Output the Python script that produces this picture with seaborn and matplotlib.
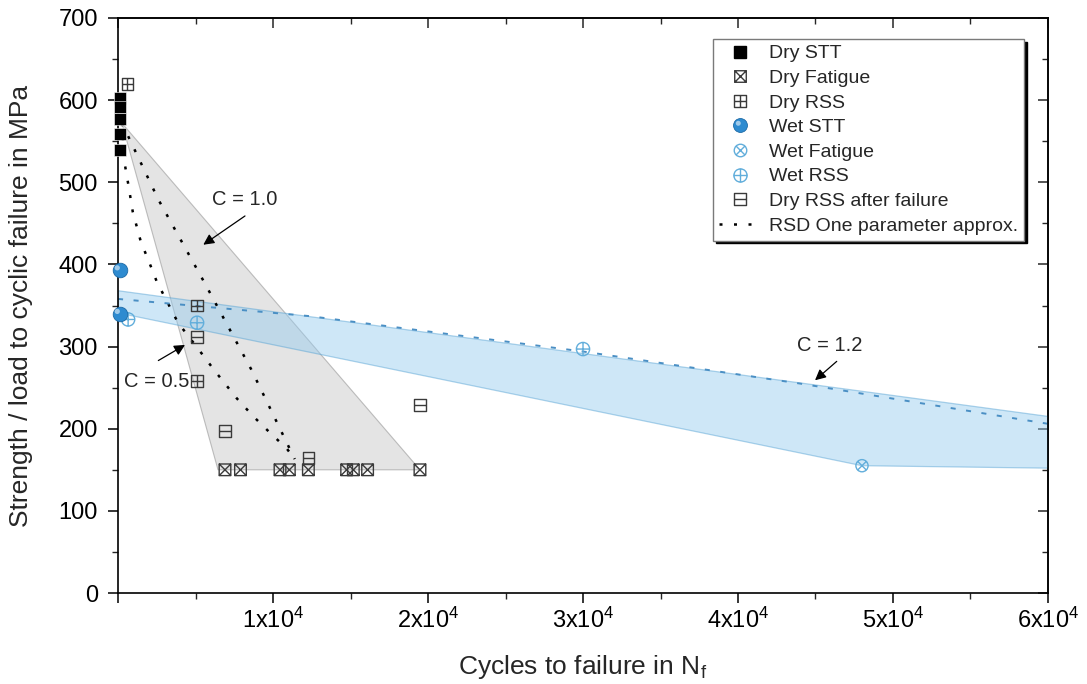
import numpy as np
import pandas as pd
import matplotlib
matplotlib.use("Agg")
import matplotlib.pyplot as plt
from matplotlib.path import Path
from matplotlib.lines import Line2D
from matplotlib.ticker import MultipleLocator, FuncFormatter
import seaborn as sns

sns.set_theme(style="ticks")
plt.rcParams["font.family"] = ["Liberation Sans", "DejaVu Sans"]
plt.rcParams["mathtext.default"] = "regular"

# ---- measured data -------------------------------------------------------
dry_stt_n = [120, 120, 120, 120, 120]
dry_stt_s = [603, 592, 577, 559, 539]

dry_fat_n = [6900, 7900, 10450, 11050, 12280, 14750, 15180, 16100, 19480]
dry_fat_s = [150, 150, 150, 150, 150, 150, 150, 150, 150]

dry_rss_n = [600, 5100, 5100]
dry_rss_s = [620, 350, 258]

wet_stt_n = [100, 100]
wet_stt_s = [393, 340]

wet_fat_n = [48000]
wet_fat_s = [155]

wet_rss_n = [650, 5100, 30000]
wet_rss_s = [333, 329, 297]

dry_after_n = [5100, 6900, 12280, 19480]
dry_after_s = [312, 197, 164, 229]

# residual strength degradation approximations
c05_n = [250, 390, 665, 950, 1465, 2065, 2500, 3870, 5180, 6260, 7660, 8730, 9810, 10880, 11400]
c05_s = [572, 527, 497, 464, 428, 400, 379, 329, 297, 270, 237, 215, 195, 176, 163]
c10_n = [250, 2600, 5600, 8600, 11400]
c10_s = [572, 479, 377, 272, 163]
c12_n = [0, 12400, 30000, 44000, 60000]
c12_s = [358, 337, 294, 255, 206]

# scatter bands
dry_band_n = [250, 6450, 19480]
dry_band_s = [572, 150, 150]
wet_band_n = [0, 60000, 60000, 48000, 0]
wet_band_s = [368, 215, 152, 155, 341]

# ---- marker shapes -------------------------------------------------------
def _seg(p0, p1):
    return Path([p0, p1], [Path.MOVETO, Path.LINETO])

_square = Path([(-1, -1), (1, -1), (1, 1), (-1, 1), (-1, -1)],
               [Path.MOVETO, Path.LINETO, Path.LINETO, Path.LINETO, Path.CLOSEPOLY])
_circle = Path.unit_circle()
_d = 0.7071

sq_x = Path.make_compound_path(_square, _seg((-1, -1), (1, 1)), _seg((-1, 1), (1, -1)))
sq_plus = Path.make_compound_path(_square, _seg((0, -1), (0, 1)), _seg((-1, 0), (1, 0)))
sq_minus = Path.make_compound_path(_square, _seg((-1, 0), (1, 0)))
ci_x = Path.make_compound_path(_circle, _seg((-_d, -_d), (_d, _d)), _seg((-_d, _d), (_d, -_d)))
ci_plus = Path.make_compound_path(_circle, _seg((0, -1), (0, 1)), _seg((-1, 0), (1, 0)))
# small glossy spot in the upper left of the sphere markers
_spot = Path.circle(center=(-0.32, 0.32), radius=0.36)
_frame_pts = Path([(1, 1), (-1, -1)], [Path.MOVETO, Path.MOVETO])
spot = Path.make_compound_path(_spot, _frame_pts)

dark = "#3a3a3a"
wet_line = "#62aedb"
sphere = "#2e8bd0"

# ---- figure --------------------------------------------------------------
fig, ax = plt.subplots(figsize=(10.87, 6.84), dpi=100)
fig.subplots_adjust(left=0.1086, right=0.9641, top=0.9737, bottom=0.1330)

ax.fill(dry_band_n, dry_band_s, facecolor="#d4d4d4", alpha=0.62,
        edgecolor="#9a9a9a", linewidth=0.8, zorder=1)
ax.fill(wet_band_n, wet_band_s, facecolor="#94cbef", alpha=0.45,
        edgecolor="#4f9fd2", linewidth=0.9, zorder=1.5)

dot = (0, (1.2, 4.6))
sns.lineplot(x=c05_n, y=c05_s, ax=ax, sort=False, estimator=None, color="black",
             linewidth=1.8, linestyle=dot, zorder=2)
sns.lineplot(x=c10_n, y=c10_s, ax=ax, sort=False, estimator=None, color="black",
             linewidth=1.8, linestyle=dot, zorder=2)
sns.lineplot(x=c12_n, y=c12_s, ax=ax, sort=False, estimator=None, color="#4a8fc4",
             linewidth=1.4, linestyle=(0, (2.6, 5.4)), zorder=2)

ms = 70
sns.scatterplot(x=dry_stt_n, y=dry_stt_s, ax=ax, marker="s", s=85,
                color="black", edgecolor="white", linewidth=0.4, zorder=4, clip_on=False)
sns.scatterplot(x=dry_fat_n, y=dry_fat_s, ax=ax, marker=sq_x, s=ms,
                facecolor="none", edgecolor=dark, linewidth=1.0, zorder=4)
sns.scatterplot(x=dry_rss_n, y=dry_rss_s, ax=ax, marker=sq_plus, s=ms,
                facecolor="none", edgecolor=dark, linewidth=1.0, zorder=4, clip_on=False)
sns.scatterplot(x=dry_after_n, y=dry_after_s, ax=ax, marker=sq_minus, s=ms,
                facecolor="none", edgecolor=dark, linewidth=1.0, zorder=4)
sns.scatterplot(x=wet_fat_n, y=wet_fat_s, ax=ax, marker=ci_x, s=ms * 1.1,
                facecolor="none", edgecolor=wet_line, linewidth=1.0, zorder=4)
sns.scatterplot(x=wet_rss_n, y=wet_rss_s, ax=ax, marker=ci_plus, s=ms * 1.3,
                facecolor="none", edgecolor=wet_line, linewidth=1.0, zorder=4, clip_on=False)
sns.scatterplot(x=wet_stt_n, y=wet_stt_s, ax=ax, marker="o", s=110,
                color=sphere, edgecolor="#1d6aa6", linewidth=0.6, zorder=5, clip_on=False)
sns.scatterplot(x=wet_stt_n, y=wet_stt_s, ax=ax, marker=spot, s=110,
                color="white", edgecolor="none", alpha=0.55, zorder=6, clip_on=False)

# ---- annotations ---------------------------------------------------------
arrow = dict(arrowstyle="-|>", color="black", lw=0.9, mutation_scale=16,
             shrinkA=0, shrinkB=0)
ax.annotate("", xy=(5500, 424), xytext=(8190, 459), arrowprops=arrow, zorder=7)
ax.text(8190, 479, "C = 1.0", ha="center", va="center", fontsize=14.5)
ax.annotate("", xy=(4320, 302), xytext=(2600, 283), arrowprops=arrow, zorder=7)
ax.text(2500, 258, "C = 0.5", ha="center", va="center", fontsize=14.5)
ax.annotate("", xy=(44970, 259), xytext=(46370, 282), arrowprops=arrow, zorder=7)
ax.text(45935, 301, "C = 1.2", ha="center", va="center", fontsize=14.5)

# ---- axes ----------------------------------------------------------------
ax.set_xlim(0, 60000)
ax.set_ylim(0, 700)
ax.xaxis.set_major_locator(MultipleLocator(10000))
ax.xaxis.set_minor_locator(MultipleLocator(5000))
ax.yaxis.set_major_locator(MultipleLocator(100))
ax.yaxis.set_minor_locator(MultipleLocator(50))
ax.xaxis.set_major_formatter(FuncFormatter(
    lambda v, p: "" if v == 0 else "%dx10$^{4}$" % round(v / 1e4)))
ax.tick_params(which="major", direction="out", length=7.5, width=1.1,
               labelsize=17, colors="black", pad=3)
ax.tick_params(which="minor", direction="out", length=4, width=1.0)
ax.tick_params(axis="y", which="major", pad=7)
for sp in ax.spines.values():
    sp.set_linewidth(1.2)
    sp.set_color("black")
    sp.set_visible(True)

top = ax.secondary_xaxis("top")
top.xaxis.set_major_locator(MultipleLocator(10000))
top.xaxis.set_minor_locator(MultipleLocator(5000))
top.tick_params(which="major", direction="in", length=7.5, width=1.1, labeltop=False)
top.tick_params(which="minor", direction="in", length=4, width=1.0)
right = ax.secondary_yaxis("right")
right.yaxis.set_major_locator(MultipleLocator(100))
right.yaxis.set_minor_locator(MultipleLocator(50))
right.tick_params(which="major", direction="in", length=7.5, width=1.1, labelright=False)
right.tick_params(which="minor", direction="in", length=4, width=1.0)

ax.set_xlabel("Cycles to failure in N$_f$", fontsize=19)
ax.set_ylabel("Strength / load to cyclic failure in MPa", fontsize=19)
ax.xaxis.set_label_coords(0.5, -0.1043)
ax.yaxis.set_label_coords(-0.0914, 0.5)

# ---- legend --------------------------------------------------------------
def mk(marker, **kw):
    base = dict(linestyle="none", marker=marker, markersize=8.3,
                markerfacecolor="none", markeredgewidth=1.0)
    base.update(kw)
    return Line2D([], [], **base)

handles = [
    mk("s", markerfacecolor="black", markeredgecolor="black", markersize=8.5),
    mk(sq_x, markeredgecolor=dark),
    mk(sq_plus, markeredgecolor=dark),
    (mk("o", markerfacecolor=sphere, markeredgecolor="#1d6aa6",
        markeredgewidth=0.6, markersize=10),
     mk(spot, markerfacecolor="white", markeredgecolor="none", alpha=0.55,
        markersize=10)),
    mk(ci_x, markeredgecolor=wet_line, markersize=9),
    mk(ci_plus, markeredgecolor=wet_line, markersize=9.5),
    mk(sq_minus, markeredgecolor=dark),
    Line2D([], [], color="black", linewidth=1.8, linestyle=dot),
]
labels = ["Dry STT", "Dry Fatigue", "Dry RSS", "Wet STT", "Wet Fatigue",
          "Wet RSS", "Dry RSS after failure", "RSD One parameter approx."]
leg = ax.legend(handles, labels, loc="upper left", bbox_to_anchor=(0.6398, 0.9635),
                borderaxespad=0, fontsize=14, handlelength=2.2, handletextpad=0.4,
                borderpad=0.3, labelspacing=0.36, frameon=True, fancybox=False,
                shadow={"color": "black", "alpha": 1.0})
leg.get_frame().set_edgecolor("#7a7a7a")
leg.get_frame().set_linewidth(1.0)
leg.set_zorder(10)

fig.savefig("out.png", dpi=100)
